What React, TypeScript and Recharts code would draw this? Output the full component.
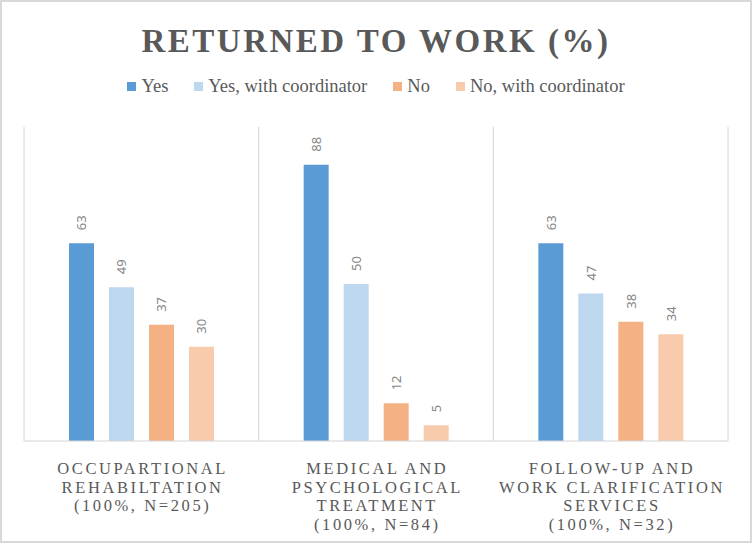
import React from "react";
import {
  BarChart,
  Bar,
  XAxis,
  YAxis,
  CartesianGrid,
  Legend,
  LabelList,
} from "recharts";

const categories = ["occ", "med", "fol"];
const categoryLines = [
  ["OCCUPARTIONAL", "REHABILTATION", "(100%, N=205)"],
  ["MEDICAL AND", "PSYCHOLOGICAL", "TREATMENT", "(100%, N=84)"],
  ["FOLLOW-UP AND", "WORK CLARIFICATION", "SERVICES", "(100%, N=32)"],
];
const yes = [63, 88, 63];
const yesCoordinator = [49, 50, 47];
const no = [37, 12, 38];
const noCoordinator = [30, 5, 34];

const series = [
  { key: "yes", name: "Yes", color: "#5B9BD5" },
  { key: "yesCoordinator", name: "Yes, with coordinator", color: "#BDD7EE" },
  { key: "no", name: "No", color: "#F4B183" },
  { key: "noCoordinator", name: "No, with coordinator", color: "#F8CBAD" },
];

const data = categories.map((c, i) => ({
  category: c,
  yes: yes[i],
  yesCoordinator: yesCoordinator[i],
  no: no[i],
  noCoordinator: noCoordinator[i],
}));

const textGray = "#595959";
const gridGray = "#d4d4d4";

function CategoryTick(props: any) {
  const { x, y, payload } = props;
  const lines = categoryLines[categories.indexOf(payload.value)] || [];
  return (
    <text
      x={x + 1.3}
      y={y}
      textAnchor="middle"
      fill={textGray}
      fontFamily="'Liberation Serif', serif"
      fontSize={16.5}
      letterSpacing={2.6}
    >
      {lines.map((l, i) => (
        <tspan key={i} x={x + 1.3} dy={i === 0 ? 25 : 18.7}>
          {l}
        </tspan>
      ))}
    </text>
  );
}

function ValueLabel(props: any) {
  const { x, y, width, value } = props;
  const cx = x + width / 2;
  const cy = y - 13;
  return (
    <text
      x={cx}
      y={cy}
      transform={`rotate(-90 ${cx} ${cy})`}
      textAnchor="start"
      dominantBaseline="central"
      fill="#858585"
      fontFamily="'Noto Sans', sans-serif"
      fontSize={13}
    >
      {value}
    </text>
  );
}

function LegendContent() {
  return (
    <div
      style={{
        height: 22,
        display: "flex",
        justifyContent: "center",
        alignItems: "center",
        fontFamily: "'Liberation Serif', serif",
        fontSize: 18.5,
        color: textGray,
      }}
    >
      {series.map((s) => (
        <div
          key={s.key}
          style={{ display: "flex", alignItems: "center", margin: "0 13px" }}
        >
          <span
            style={{
              width: 9,
              height: 9,
              background: s.color,
              display: "inline-block",
              marginRight: 5,
            }}
          />
          {s.name}
        </div>
      ))}
    </div>
  );
}

export default function App() {
  return (
    <div style={{ position: "relative", width: 752, height: 543, background: "#fff" }}>
      <style>{`body{margin:0}`}</style>
      <div
        style={{
          position: "absolute",
          top: 23,
          left: 0,
          width: 752,
          textAlign: "center",
          fontFamily: "'Liberation Serif', serif",
          fontWeight: "bold",
          fontSize: 33,
          letterSpacing: 2.5,
          color: textGray,
        }}
      >
        RETURNED TO WORK (%)
      </div>
      <BarChart
        width={752}
        height={543}
        data={data}
        margin={{ top: 105, right: 24, left: 24, bottom: 0 }}
        barGap={15}
        barSize={25}
      >
        <CartesianGrid
          horizontal={false}
          stroke={gridGray}
          verticalCoordinatesGenerator={({ offset }: any) => [
            offset.left,
            offset.left + offset.width / 3,
            offset.left + (2 * offset.width) / 3,
            offset.left + offset.width,
          ]}
        />
        <XAxis
          dataKey="category"
          height={102}
          axisLine={{ stroke: gridGray }}
          tickLine={false}
          interval={0}
          tick={<CategoryTick />}
        />
        <YAxis hide domain={[0, 100]} />
        <Legend
          verticalAlign="top"
          content={<LegendContent />}
          wrapperStyle={{ top: 75, left: 0, width: 752 }}
        />
        {series.map((s) => (
          <Bar
            key={s.key}
            dataKey={s.key}
            name={s.name}
            fill={s.color}
            isAnimationActive={false}
          >
            <LabelList dataKey={s.key} content={<ValueLabel />} />
          </Bar>
        ))}
      </BarChart>
      <div
        style={{
          position: "absolute",
          inset: 0,
          border: "2px solid #d9d9d9",
          pointerEvents: "none",
        }}
      />
    </div>
  );
}
